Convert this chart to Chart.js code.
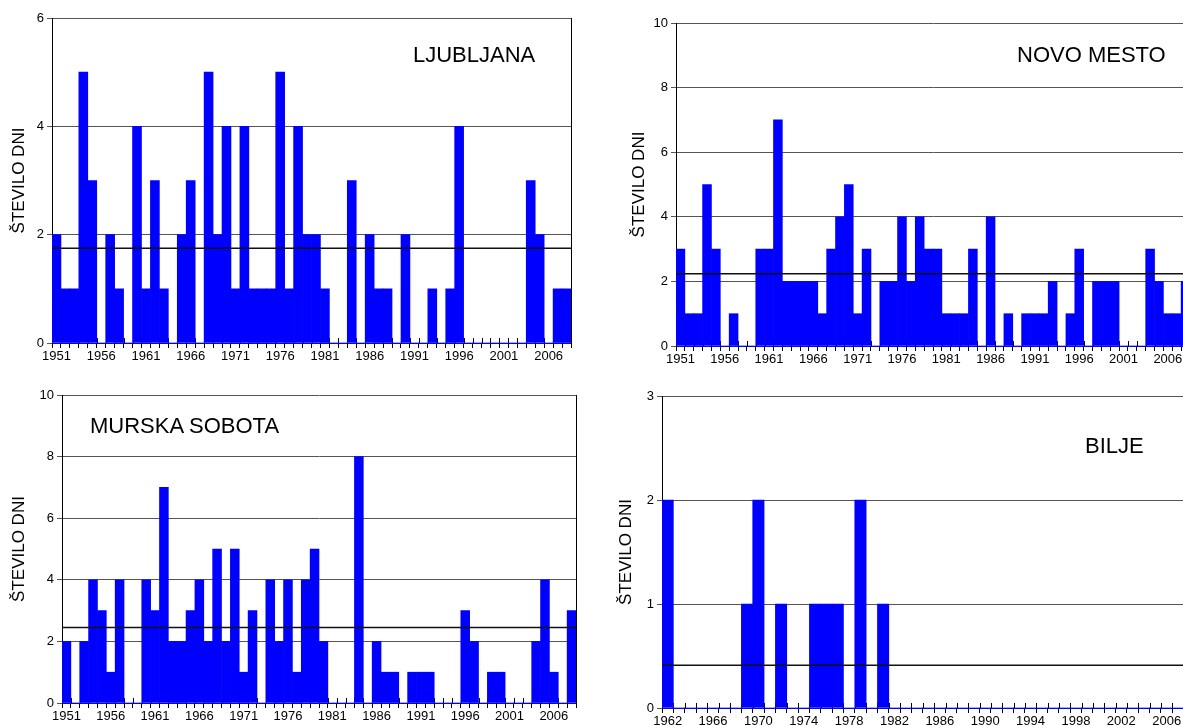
<!DOCTYPE html>
<html>
<head>
<meta charset="utf-8">
<script src="https://cdn.jsdelivr.net/npm/chart.js@4.4.1/dist/chart.umd.min.js"></script>
<style>
  html, body { margin: 0; padding: 0; background: #fff; overflow: hidden; }
  body { width: 1183px; height: 726px; position: relative; }
  .panel { position: absolute; }
  .station { position: absolute; font: 22px "Liberation Sans", Arial, sans-serif; line-height: 22px; color: #000; white-space: nowrap; }
</style>
</head>
<body>
<div class="panel" style="left:3px;top:0px;width:574px;height:373px"><canvas id="ljubljana"></canvas></div>
<div class="panel" style="left:623px;top:5px;width:573px;height:371px"><canvas id="novomesto"></canvas></div>
<div class="panel" style="left:3px;top:377px;width:579px;height:356px"><canvas id="murska"></canvas></div>
<div class="panel" style="left:610px;top:378px;width:591px;height:360px"><canvas id="bilje"></canvas></div>

<div class="station" style="left:413px;top:44px">LJUBLJANA</div>
<div class="station" style="left:1017px;top:44px">NOVO MESTO</div>
<div class="station" style="left:90px;top:415px">MURSKA SOBOTA</div>
<div class="station" style="left:1085px;top:435px">BILJE</div>

<script>
// years 1951-2008 for three stations, 1962-2008 for Bilje
const years51 = [];
for (let y = 1951; y <= 2008; y++) years51.push(String(y));
const years62 = [];
for (let y = 1962; y <= 2008; y++) years62.push(String(y));

const ljubljanaDays = [2,1,1,5,3,0,2,1,0,4, 1,3,1,0,2,3,0,5,2,4, 1,4,1,1,1,5,1,4,2,2,
  1,0,0,3,0,2,1,1,0,2, 0,0,1,0,1,4,0,0,0,0, 0,0,0,3,2,0,1,1];
const novoMestoDays = [3,1,1,5,3,0,1,0,0,3, 3,7,2,2,2,2,1,3,4,5, 1,3,0,2,2,4,2,4,3,3,
  1,1,1,3,0,4,0,1,0,1, 1,1,2,0,1,3,0,2,2,2, 0,0,0,3,2,1,1,2];
const murskaSobotaDays = [2,0,2,4,3,1,4,0,0,4, 3,7,2,2,3,4,2,5,2,5, 1,3,0,4,2,4,1,4,5,2,
  0,0,0,8,0,2,1,1,0,1, 1,1,0,0,0,3,2,0,1,1, 0,0,0,2,4,1,0,3];
const biljeDays = [2,0,0,0,0,0,0,1,2,0, 1,0,0,1,1,1,0,2,0,1,
  0,0,0,0,0,0,0,0,0,0, 0,0,0,0,0,0,0,0,0,0, 0,0,0,0,0,0,0];

// average lines
const ljubljanaMean = 1.75;
const novoMestoMean = 2.24;
const murskaSobotaMean = 2.45;
const biljeMean = 0.41;

const FONT = '"Liberation Sans", Arial, sans-serif';

// small tick marks pointing up into the plot, hidden by the bars
const innerTicks = {
  id: 'innerTicks',
  beforeDatasetsDraw(chart) {
    const x = chart.scales.x;
    const n = chart.data.labels.length;
    const half = (x.getPixelForValue(1) - x.getPixelForValue(0)) / 2;
    const bottom = chart.chartArea.bottom;
    const ctx = chart.ctx;
    ctx.save();
    ctx.strokeStyle = '#000';
    ctx.lineWidth = 1;
    ctx.beginPath();
    for (let i = 0; i <= n; i++) {
      const px = Math.round(x.getPixelForValue(i) - half) + 0.5;
      ctx.moveTo(px, bottom);
      ctx.lineTo(px, bottom - 5);
    }
    ctx.stroke();
    ctx.restore();
  }
};

function makePanel(id, years, days, mean, yMax, yStep, labelEvery, yWidth) {
  new Chart(document.getElementById(id), {
    type: 'bar',
    data: {
      labels: years,
      datasets: [
        {
          type: 'line',
          data: years.map(() => mean),
          xAxisID: 'xm',
          borderColor: '#111',
          borderWidth: 1.5,
          pointRadius: 0,
          fill: false,
          order: 0
        },
        {
          type: 'bar',
          data: days,
          xAxisID: 'x',
          backgroundColor: '#0000ff',
          borderWidth: 0,
          barPercentage: 1,
          categoryPercentage: 1,
          grouped: false,
          order: 1
        }
      ]
    },
    options: {
      responsive: true,
      maintainAspectRatio: false,
      animation: false,
      datasets: { bar: { barPercentage: 1, categoryPercentage: 1 } },
      layout: { padding: { top: 18, right: 6, bottom: 0, left: 0 } },
      plugins: { legend: { display: false }, tooltip: { enabled: false } },
      scales: {
        x: {
          type: 'category',
          offset: true,
          grid: { drawOnChartArea: false, offset: true, tickLength: 5, color: '#000' },
          border: { color: '#0000ff' },
          ticks: {
            autoSkip: false,
            maxRotation: 0,
            padding: 1,
            color: '#000',
            font: { family: FONT, size: 13 },
            callback(val, i) { return i % labelEvery === 0 ? this.getLabelForValue(val) : ''; }
          },
          afterFit(s) { s.height = 30; }
        },
        xm: {
          type: 'category',
          labels: years,
          offset: false,
          display: false
        },
        y: {
          min: 0,
          max: yMax,
          grid: { color: '#555', tickLength: 5 },
          border: { color: '#000' },
          ticks: {
            stepSize: yStep,
            padding: 3,
            color: '#000',
            font: { family: FONT, size: 13 }
          },
          title: {
            display: true,
            text: 'ŠTEVILO DNI',
            color: '#000',
            font: { family: FONT, size: 17 },
            padding: { top: 6, bottom: 4 }
          },
          afterFit(s) { s.width = yWidth; }
        },
        y2: {
          position: 'right',
          grid: { drawOnChartArea: false, drawTicks: false },
          border: { color: '#000' },
          ticks: { display: false },
          afterFit(s) { s.width = 0; }
        }
      }
    },
    plugins: [innerTicks]
  });
}

makePanel('ljubljana', years51, ljubljanaDays, ljubljanaMean, 6, 2, 5, 49);
makePanel('novomesto', years51, novoMestoDays, novoMestoMean, 10, 2, 5, 53);
makePanel('murska', years51, murskaSobotaDays, murskaSobotaMean, 10, 2, 5, 59);
makePanel('bilje', years62, biljeDays, biljeMean, 3, 1, 4, 52);
</script>
</body>
</html>
